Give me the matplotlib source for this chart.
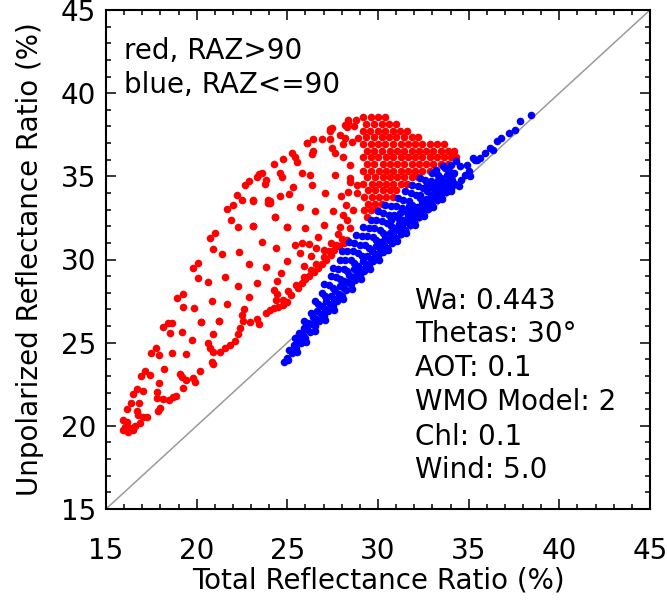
import matplotlib
matplotlib.use('Agg')
import matplotlib.pyplot as plt
import numpy as np

# ---- data (x = total, y = unpolarized ratio, %) ----
# red: RAZ > 90
red_low = [(18.16, 25.92), (18.44, 26.20), (18.53, 25.56), (19.17, 25.62), (20.22, 26.26),
           (21.25, 26.30), (19.76, 25.16), (20.92, 25.52), (17.74, 24.66), (17.46, 24.36),
           (17.94, 24.24), (18.62, 24.40), (19.41, 24.30), (20.64, 24.96), (20.73, 24.66),
           (20.92, 24.46), (21.29, 24.46), (21.56, 24.66), (21.84, 24.86), (22.11, 25.12),
           (20.83, 23.86), (20.92, 23.71), (17.15, 23.31), (16.91, 23.01), (17.43, 23.05),
           (18.20, 23.39), (19.08, 23.11), (19.17, 22.91), (19.41, 22.75), (19.78, 22.85),
           (20.18, 23.31), (19.91, 22.65), (17.94, 22.59), (16.69, 22.19), (17.06, 22.11),
           (16.47, 21.91), (17.79, 22.05), (17.79, 21.65), (18.16, 21.59), (18.49, 21.55),
           (18.68, 21.71), (18.86, 21.79), (19.23, 22.25), (16.36, 21.35), (16.84, 21.39),
           (17.98, 21.05), (17.89, 20.91), (16.14, 20.99), (16.69, 20.91), (16.78, 20.65),
           (17.06, 20.51), (17.28, 20.55), (15.96, 20.35), (16.14, 20.25), (16.05, 19.95),
           (16.32, 19.85), (16.60, 19.99), (16.87, 20.19), (15.96, 19.75), (16.23, 19.65),
           (16.51, 19.75), (22.30, 25.50), (22.40, 25.90)]

red_mid = [(21.99, 33.28), (21.69, 33.02), (23.13, 33.54), (23.95, 33.42), (24.04, 33.54),
           (21.88, 32.38), (22.30, 31.98), (23.13, 32.04), (24.32, 32.54), (25.00, 31.98),
           (21.01, 31.58), (20.74, 31.28), (20.92, 30.61), (21.42, 30.31), (22.35, 30.47),
           (23.58, 31.08), (24.38, 30.71), (25.44, 30.87), (20.09, 29.77), (19.82, 29.47),
           (22.90, 29.73), (23.81, 29.57), (25.00, 29.93), (20.09, 28.87), (20.61, 28.67),
           (21.56, 28.97), (22.26, 28.41), (23.31, 28.57), (24.65, 29.21), (24.45, 28.73),
           (19.23, 27.93), (18.93, 27.67), (19.27, 27.17), (19.85, 27.07), (20.86, 27.53),
           (21.65, 27.31), (22.90, 27.73), (24.26, 28.17), (24.41, 27.93), (24.38, 27.57),
           (24.78, 27.57), (25.06, 28.13), (25.18, 27.87), (24.96, 27.47), (24.74, 27.27),
           (24.50, 27.13), (24.26, 27.07), (25.48, 28.47), (25.61, 28.27), (22.61, 27.03),
           (22.48, 26.67), (22.54, 26.33), (22.94, 26.27), (23.31, 26.41), (23.46, 26.13),
           (23.82, 26.81), (24.04, 26.97), (20.24, 26.27), (21.25, 26.33), (18.62, 26.21),
           (22.25, 33.85), (22.67, 34.48), (22.50, 33.60), (22.90, 34.70)]

red_up = [(27.44, 37.89), (27.35, 37.75), (28.18, 38.09), (28.27, 37.95), (28.36, 38.29),
          (28.67, 38.03), (28.79, 38.39), (27.90, 37.49), (28.18, 37.29), (27.35, 37.23),
          (26.89, 37.23), (26.43, 37.23), (26.07, 36.99), (27.44, 36.69), (27.63, 36.42),
          (28.09, 36.95), (28.55, 37.09), (28.91, 37.29), (25.24, 36.42), (25.42, 36.18),
          (25.51, 35.88), (24.78, 36.02), (26.43, 36.54), (26.34, 36.35), (24.26, 35.74),
          (25.79, 35.22), (26.25, 35.08), (27.63, 35.08), (28.45, 35.68), (28.09, 36.18),
          (23.58, 35.22), (23.45, 35.14), (23.31, 34.98), (23.82, 34.78), (23.77, 34.54),
          (24.59, 35.22), (24.69, 34.94), (25.33, 34.38), (26.34, 34.48), (27.08, 33.98),
          (28.45, 34.88), (28.45, 34.68), (28.82, 34.48), (23.12, 33.58), (23.95, 33.58),
          (24.04, 33.38), (24.59, 33.82), (25.11, 33.94), (25.70, 33.18), (26.52, 32.94),
          (27.50, 32.94), (27.94, 33.82), (28.23, 33.28), (28.36, 34.08), (28.82, 33.98),
          (24.32, 32.54), (23.12, 32.02), (25.00, 31.94), (25.97, 31.88), (27.02, 32.08),
          (27.90, 31.98), (27.81, 31.53), (28.27, 32.38), (28.45, 31.88), (28.09, 32.68),
          (28.64, 32.98), (26.71, 31.33), (28.37, 38.39), (27.36, 37.83), (26.07, 36.98)]

red_edge = [(25.80, 28.60), (26.00, 28.80), (26.20, 29.00), (26.45, 29.25), (26.70, 29.50),
            (26.90, 29.75), (27.15, 30.00), (27.40, 30.30), (27.60, 30.55), (27.85, 30.80),
            (28.10, 31.00), (28.30, 31.20), (25.90, 28.95), (26.30, 29.35), (26.60, 29.75),
            (27.00, 30.15), (27.30, 30.50), (27.70, 30.90), (28.00, 31.25), (25.70, 30.40),
            (25.90, 29.60), (26.30, 30.20), (26.60, 30.70), (26.20, 30.95), (27.00, 30.60),
            (27.40, 31.00), (25.80, 31.00)]

# dense cap of red points, one row per y level
cap_rows = {
    38.55: [29.2, 29.6, 30.0, 30.4],
    38.15: [29.35, 29.8, 30.2, 30.6, 31.0],
    37.75: [29.15, 29.55, 30.0, 30.4, 30.8, 31.2, 31.6],
    37.35: [29.35, 29.8, 30.2, 30.6, 31.0, 31.45, 31.85, 32.2],
    36.95: [29.15, 29.6, 30.0, 30.4, 30.85, 31.25, 31.65, 32.05, 32.45, 32.85, 33.25, 33.65],
    36.55: [29.4, 29.8, 30.2, 30.65, 31.05, 31.45, 31.85, 32.25, 32.65, 33.05, 33.45, 33.85, 34.2],
    36.15: [29.2, 29.6, 30.0, 30.45, 30.85, 31.25, 31.65, 32.05, 32.45, 32.85, 33.25, 33.65, 34.05, 34.3],
    35.75: [29.4, 29.8, 30.25, 30.65, 31.05, 31.45, 31.85, 32.25, 32.65, 33.05, 33.45, 33.85],
    35.35: [29.2, 29.6, 30.05, 30.45, 30.85, 31.25, 31.65, 32.05, 32.45, 32.85],
    34.95: [29.4, 29.85, 30.25, 30.65, 31.05, 31.45, 31.85, 32.2],
    34.55: [29.2, 29.65, 30.05, 30.45, 30.85, 31.25, 31.6],
    34.15: [29.45, 29.85, 30.25, 30.65, 31.0],
    33.75: [29.25, 29.65, 30.05, 30.45, 30.8],
    33.35: [29.45, 29.85, 30.2],
    32.95: [29.25, 29.6, 29.95],
    32.55: [29.4],
}

# blue: RAZ <= 90, rows running along the diagonal
blue_a_x = [24.8, 25.0, 25.25, 25.5, 25.75, 26.0, 26.25, 26.5, 26.75, 27.0, 27.25, 27.5, 27.75,
            28.0, 28.25, 28.5, 28.75, 29.0, 29.25, 29.5, 29.75, 30.0, 30.25, 30.5, 30.75, 31.0,
            31.25, 31.5, 31.75, 32.0, 32.25, 32.5, 32.75, 33.0, 33.25, 33.5, 33.75, 34.0, 34.25]
blue_a_y = [23.85, 24.1, 24.4, 24.7, 25.0, 25.3, 25.65, 26.0, 26.3, 26.6, 26.9, 27.2, 27.5,
            27.8, 28.15, 28.5, 28.75, 29.0, 29.3, 29.6, 29.9, 30.2, 30.45, 30.7, 31.0, 31.3,
            31.55, 31.8, 32.05, 32.3, 32.55, 32.8, 33.05, 33.3, 33.55, 33.8, 34.05, 34.3, 34.55]
blue_b_x = [25.1, 25.35, 25.6, 25.85, 26.1, 26.35, 26.6, 26.85, 27.1, 27.35, 27.6, 27.85, 28.1,
            28.35, 28.6, 28.85, 29.1, 29.35, 29.6, 29.85, 30.1, 30.35, 30.6, 30.85, 31.1, 31.35,
            31.6, 31.85, 32.1, 32.35, 32.6, 32.85, 33.1, 33.35, 33.6, 33.85, 34.1]
blue_b_y = [24.55, 24.85, 25.15, 25.45, 25.8, 26.15, 26.45, 26.75, 27.05, 27.35, 27.65, 27.95,
            28.3, 28.65, 28.95, 29.2, 29.45, 29.75, 30.05, 30.35, 30.65, 30.9, 31.15, 31.45, 31.75,
            32.0, 32.25, 32.5, 32.75, 33.0, 33.25, 33.5, 33.75, 34.0, 34.25, 34.5, 34.75]
blue_c_x = [25.4, 25.65, 25.9, 26.15, 26.4, 26.65, 26.9, 27.15, 27.4, 27.65, 27.9, 28.15, 28.4,
            28.65, 28.9, 29.15, 29.4, 29.65, 29.9, 30.15, 30.4, 30.65, 30.9, 31.15, 31.4, 31.65,
            31.9, 32.15, 32.4, 32.65, 32.9, 33.15, 33.4, 33.65, 33.9, 34.15]
blue_c_y = [25.3, 25.6, 25.9, 26.2, 26.55, 26.9, 27.2, 27.5, 27.8, 28.1, 28.4, 28.7, 29.05,
            29.4, 29.6, 29.9, 30.2, 30.5, 30.8, 31.05, 31.3, 31.6, 31.9, 32.15, 32.4, 32.65,
            32.9, 33.15, 33.4, 33.65, 33.9, 34.15, 34.4, 34.65, 34.9, 35.15]
blue_d_x = [25.9, 26.3, 26.7, 27.1, 27.5, 27.9, 28.3, 28.7, 29.1, 29.5, 29.9, 30.3, 30.7, 31.1,
            31.5, 31.9, 32.3, 32.7, 33.1, 33.5, 33.9]
blue_d_y = [26.3, 26.8, 27.35, 27.8, 28.3, 28.8, 29.3, 29.8, 30.2, 30.7, 31.2, 31.6, 32.0, 32.5,
            32.9, 33.3, 33.7, 34.1, 34.5, 34.9, 35.3]
blue_e_x = [26.5, 26.9, 27.3, 27.7, 28.1, 28.5, 28.9, 29.3, 29.7, 30.1, 30.5, 30.9, 31.3, 31.7,
            32.1, 32.5, 32.9, 33.3, 33.7]
blue_e_y = [27.5, 28.0, 28.45, 28.95, 29.45, 30.0, 30.4, 30.85, 31.35, 31.8, 32.2, 32.7, 33.1,
            33.5, 33.9, 34.3, 34.7, 35.1, 35.5]
blue_f_x = [27.0, 27.4, 27.8, 28.2, 28.6, 29.0, 29.4, 29.8, 30.2, 30.6, 31.0, 31.4, 31.8, 32.2,
            32.6, 33.0]
blue_f_y = [28.5, 29.0, 29.45, 29.95, 30.5, 30.9, 31.4, 31.9, 32.3, 32.7, 33.2, 33.6, 34.0, 34.4,
            34.8, 35.2]
blue_g_x = [27.5, 27.9, 28.3, 28.7, 29.1, 29.5, 29.9, 30.3, 30.7, 31.1, 31.5, 31.9, 32.3]
blue_g_y = [29.5, 30.0, 30.5, 31.0, 31.4, 31.9, 32.4, 32.8, 33.2, 33.7, 34.1, 34.5, 34.9]
blue_h_x = [28.0, 28.4, 28.8, 29.2, 29.6, 30.0, 30.4]
blue_h_y = [30.5, 31.05, 31.5, 31.95, 32.4, 32.9, 33.3]
# extra points filling the thick band next to the diagonal
blue_dense = [(25.05, 23.95), (25.55, 24.45), (26.05, 25.05), (26.55, 25.7), (27.05, 26.35),
              (27.55, 26.95), (28.05, 27.6), (28.55, 28.25), (29.05, 28.8), (29.55, 29.4),
              (30.05, 30.0), (30.55, 30.55), (31.05, 31.1), (31.55, 31.6), (32.05, 32.1),
              (32.55, 32.6), (33.05, 33.15), (33.55, 33.65), (34.05, 34.1), (32.3, 33.9),
              (32.8, 34.3), (33.3, 34.75), (33.8, 35.1), (32.7, 34.6), (33.2, 35.4), (33.6, 35.6),
              (34.0, 35.7), (34.3, 35.9), (34.2, 35.2), (31.7, 33.2), (31.2, 32.8), (30.7, 32.4)]
blue_tail = [(34.5, 35.6), (34.9, 35.7), (35.25, 36.1), (35.45, 36.0), (35.0, 35.3), (35.1, 35.0),
             (34.6, 34.8), (34.45, 34.4), (34.8, 35.1), (35.6, 36.1), (35.35, 36.0), (36.15, 36.7),
             (36.35, 36.6), (36.55, 37.1), (37.2, 37.6), (37.55, 37.8), (37.85, 38.3), (38.45, 38.7),
             (35.9, 36.4), (36.8, 37.3)]

info_lines = ['Wa: 0.443', 'Thetas: 30\u00b0', 'AOT: 0.1', 'WMO Model: 2', 'Chl: 0.1', 'Wind: 5.0']


def main():
    plt.rcParams['font.family'] = ['DejaVu Sans']
    fs = 20

    red = np.array(red_low + red_mid + red_up + red_edge)
    cap = np.array([(x, y) for y, xs in cap_rows.items() for x in xs])
    red = np.vstack([red, cap])

    blue_x = blue_a_x + blue_b_x + blue_c_x + blue_d_x + blue_e_x + blue_f_x + blue_g_x + blue_h_x
    blue_y = blue_a_y + blue_b_y + blue_c_y + blue_d_y + blue_e_y + blue_f_y + blue_g_y + blue_h_y
    extra = np.array(blue_dense + blue_tail)
    blue_x = np.concatenate([blue_x, extra[:, 0]])
    blue_y = np.concatenate([blue_y, extra[:, 1]])

    fig = plt.figure(figsize=(6.67, 6.0), dpi=100)
    ax = fig.add_axes([106 / 667, 91 / 600, 544 / 667, 499 / 600])

    ax.plot([15, 45], [15, 45], color='#9a9a9a', lw=1.1, zorder=1)
    ax.scatter(red[:, 0], red[:, 1], s=30, color='#ff0000', linewidths=0, zorder=2)
    ax.scatter(blue_x, blue_y, s=30, color='#0000ff', linewidths=0, zorder=3)

    ax.set_xlim(15, 45)
    ax.set_ylim(15, 45)
    ax.set_xticks(np.arange(15, 46, 5))
    ax.set_yticks(np.arange(15, 46, 5))
    ax.set_xticks(np.arange(15, 46, 1), minor=True)
    ax.set_yticks(np.arange(15, 46, 1), minor=True)
    ax.tick_params(which='both', direction='in', top=True, right=True, width=1.1, colors='black')
    ax.tick_params(which='major', length=7.2, labelsize=fs)
    ax.tick_params(which='minor', length=3.6)
    ax.tick_params(axis='x', which='major', pad=20)
    ax.tick_params(axis='y', which='major', pad=7)
    for sp in ax.spines.values():
        sp.set_linewidth(1.5)

    fig.text(378 / 667, 1 - 580 / 600, 'Total Reflectance Ratio (%)', ha='center', va='center', fontsize=fs)
    fig.text(30 / 667, 1 - 259 / 600, 'Unpolarized Reflectance Ratio (%)', ha='center', va='center',
             rotation=90, fontsize=fs)

    ax.text(0.033, 0.902, 'red, RAZ>90', transform=ax.transAxes, fontsize=fs, va='baseline')
    ax.text(0.033, 0.834, 'blue, RAZ<=90', transform=ax.transAxes, fontsize=fs, va='baseline')

    ys = [0.401, 0.335, 0.267, 0.198, 0.128, 0.062]
    for txt, yy in zip(info_lines, ys):
        ax.text(0.568, yy, txt, transform=ax.transAxes, fontsize=fs, va='baseline')

    fig.savefig('out.png', dpi=100)


if __name__ == '__main__':
    main()
